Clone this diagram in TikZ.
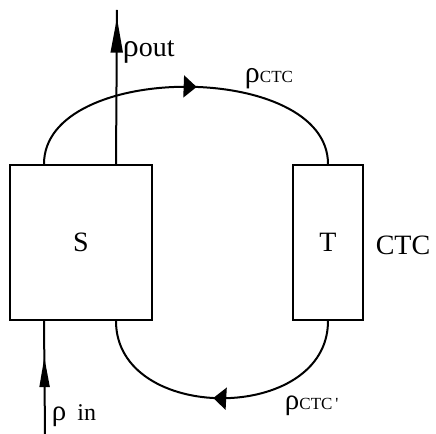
\documentclass[tikz,border=0pt]{standalone}
\usepackage{fontspec}
\setmainfont{Liberation Serif}
\usetikzlibrary{arrows.meta,calc,decorations.markings}

\begin{document}
\begin{tikzpicture}[
  x=0.5pt, y=0.5pt,
  line width=1pt,
  box/.style={draw, line width=1pt, inner sep=0pt, minimum width=#1, minimum height=77.5pt, font=\fontsize{14}{16}\selectfont},
  lab/.style={inner sep=0pt, anchor=base west},
  midtip/.style={postaction={decorate}, decoration={markings,
    mark=at position #1 with {\arrow{Triangle[length=6.5pt,width=11pt]}}}},
  uptip/.style n args={3}{postaction={decorate}, decoration={markings,
    mark=at position #1 with {\arrow{Triangle[length=#2,width=#3]}}}}
]
\useasboundingbox (0,0) rectangle (436,434);
% boxes
\node[box=71pt] (S) at (81,191.5) {S};
\node[box=35pt] (T) at (328,191.5) {T};
\node[font=\fontsize{14}{16}\selectfont] (ctc) at (403,189) {CTC};
% free ends of the in/out lines
\coordinate (outEnd) at (117,424);
\coordinate (inStart) at (45,0);
% loop between S and T
\draw[midtip=0.53] ($(S.north west)+(35,0)$) .. controls +(0,103) and +(0,103) .. (T.north);
\draw[midtip=0.53] (T.south) .. controls +(0,-103) and +(0,-103) .. ($(S.south west)+(107,0)$);
% input and output
\draw[uptip={0.95}{17.5pt}{6pt}] ($(S.north west)+(107,0)$) -- (outEnd);
\draw[uptip={0.68}{15pt}{5pt}] (inStart) -- ($(S.south west)+(35,0)$);
% labels
\node[lab] (rhoOut) at (122,377) {{\fontsize{16}{16}\selectfont ρ}{\fontsize{14}{14}\selectfont out}};
\node[lab] (rhoCtc) at (244,351) {{\fontsize{15}{15}\selectfont ρ}{\fontsize{8.5}{9}\selectfont CTC}};
\node[lab] (rhoCtcP) at (284,24) {{\fontsize{14.5}{15}\selectfont ρ}{\fontsize{8.5}{9}\selectfont CTC\,\textquotesingle}};
\node[lab] (rhoIn) at (51,13) {{\fontsize{14.5}{15}\selectfont ρ}\hspace{5.5pt}{\fontsize{12}{13}\selectfont in}};
\end{tikzpicture}
\end{document}
